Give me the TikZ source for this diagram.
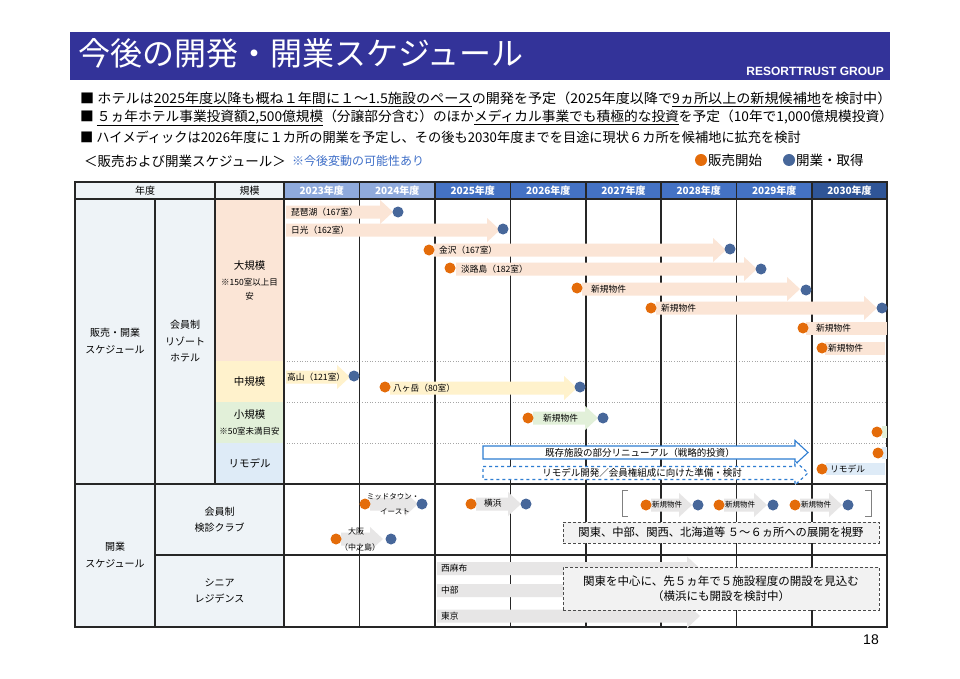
\documentclass[tikz,border=0pt]{standalone}
\usepackage{fontspec}
\usepackage{graphicx}
\setmainfont{Noto Sans CJK JP}
\newfontfamily\arial{Liberation Sans}
\definecolor{ttl}{HTML}{333399}
\definecolor{salm}{HTML}{FBE5D6}
\definecolor{cream}{HTML}{FFF2CC}
\definecolor{mint}{HTML}{E2F0D9}
\definecolor{sky}{HTML}{DEEBF7}
\definecolor{pale}{HTML}{EEF3F7}
\definecolor{hdA}{HTML}{8FAADC}
\definecolor{hdB}{HTML}{4472C4}
\definecolor{hdC}{HTML}{2F5597}
\definecolor{dotor}{HTML}{E46C0A}
\definecolor{dotbl}{HTML}{47679A}
\definecolor{rmd}{HTML}{2E7DD1}
\definecolor{ash}{HTML}{E7E6E6}
\definecolor{notec}{HTML}{3F6FC8}
% block arrow: start x, tip x, centre y, path options
\newcommand{\barh}{6.5}
\newcommand{\headh}{12}
\newcommand{\headl}{13}
\newcommand{\blk}[4]{\path[#4] (#1,#3-\barh)--(#2-\headl,#3-\barh)--(#2-\headl,#3-\headh)--(#2,#3)
  --(#2-\headl,#3+\headh)--(#2-\headl,#3+\barh)--(#1,#3+\barh)--cycle;}
\begin{document}
\begin{tikzpicture}[x=1pt,y=-1pt,
  sale/.style={circle,fill=dotor,inner sep=0pt,minimum size=11pt},
  open/.style={circle,fill=dotbl,inner sep=0pt,minimum size=11pt},
  lbl/.style={anchor=west,inner sep=0pt,font=\fontsize{8.7}{9}\selectfont},
  cell/.style={align=center,inner sep=0pt,font=\fontsize{10}{16.5}\selectfont},
  yr/.style={text=white,inner sep=0pt,font=\bfseries\fontsize{10}{10}\selectfont},
  grid/.style={line width=1.2pt,black!85},
  sep/.style={black!35,dotted,line width=0.6pt},
  note/.style={draw=black!70,densely dashed,fill=black!5,line width=0.8pt,inner sep=0pt},
  bul/.style={anchor=west,inner sep=0pt,font=\fontsize{13.5}{14}\selectfont}]
\path[fill=white] (0,0) rectangle (960,679);
% title
\fill[ttl] (70,32) rectangle (890,80);
\node[anchor=west,text=white,inner sep=0pt,font=\fontsize{32}{33}\selectfont] (ttl) at (78,53) {今後の開発・開業スケジュール};
\node[anchor=east,text=white,inner sep=0pt,font=\arial\bfseries\fontsize{12}{12}\selectfont] (grp) at (884,71) {RESORTTRUST GROUP};
% bullets
\node[bul] (b1) at (80,99) {\scalebox{1.044}[1]{■ ホテルは\underline{2025年度以降も概ね１年間に１～1.5施設のペース}の開発を予定（2025年度以降で\underline{9ヵ所以上の新規候補地}を検討中）}};
\node[bul] (b2) at (80,118) {\scalebox{1.016}[1]{■ \underline{５ヵ年ホテル事業投資額2,500億規模}（分譲部分含む）のほか\underline{メディカル事業でも積極的な投資}を予定（10年で1,000億規模投資）}};
\node[bul] (b3) at (80,137) {\scalebox{0.978}[1]{■ ハイメディックは2026年度に１カ所の開業を予定し、その後も2030年度までを目途に現状６カ所を候補地に拡充を検討}};
\node[anchor=west,inner sep=0pt,font=\fontsize{13.5}{14}\selectfont] (sub) at (84,161) {＜販売および開業スケジュール＞};
\node[anchor=west,inner sep=0pt,text=notec,font=\fontsize{12}{12}\selectfont,xshift=6pt] (rem) at (sub.east) {※今後変動の可能性あり};
\node[sale,minimum size=12pt] (lg1) at (701,160) {};
\node[anchor=west,inner sep=0pt,font=\fontsize{13.5}{14}\selectfont] (lt1) at (708,160) {販売開始};
\node[open,minimum size=12pt] (lg2) at (789,160) {};
\node[anchor=west,inner sep=0pt,font=\fontsize{13.5}{14}\selectfont] (lt2) at (796,160) {開業・取得};
% cells
\fill[pale] (75,182) rectangle (284,199);
\fill[pale] (75,199) rectangle (215,627);
\fill[pale] (215,484) rectangle (284,627);
\fill[salm] (215,199) rectangle (284,361);
\fill[cream] (215,361) rectangle (284,402);
\fill[mint] (215,402) rectangle (284,443);
\fill[sky] (215,443) rectangle (284,484);
\foreach \p/\q/\cl/\yy in {284/359.5/hdA/2023,359.5/435/hdA/2024,435/510.5/hdB/2025,510.5/586/hdB/2026,
  586/661/hdB/2027,661/736.5/hdB/2028,736.5/812/hdB/2029,812/887/hdC/2030}
  {\fill[\cl] (\p,182) rectangle (\q,199);
   \node[yr] (y\yy) at ({(\p+\q)/2},190.5) {\yy 年度};}
\foreach \y in {361,402,443} \draw[sep] (284,\y)--(887,\y);
% grid
\draw[grid] (75,182) rectangle (887,627);
\draw[grid] (75,199)--(887,199);
\draw[grid] (215,182)--(215,484);
\draw[grid] (155,199)--(155,627);
\foreach \x in {284,359.5,435,510.5,586,661,736.5,812} \draw[grid] (\x,182)--(\x,627);
\draw[grid,line width=2.2pt] (75,484)--(887,484);
\draw[grid] (155,555)--(887,555);
\node[cell] (hy) at (145,190.5) {年度};
\node[cell] (hs) at (249.5,190.5) {規模};
\node[cell] (c1) at (115,341) {販売・開業\\スケジュール};
\node[cell] (c2) at (185,341.5) {会員制\\リゾート\\ホテル};
\node[cell,font=\fontsize{10.5}{12}\selectfont] (lgA) at (249.5,266) {大規模};
\node[cell,font=\fontsize{8.5}{14}\selectfont] (lgB) at (249.5,289) {※150室以上目\\安};
\node[cell,font=\fontsize{10.5}{12}\selectfont] (md) at (249.5,381.5) {中規模};
\node[cell,font=\fontsize{10.5}{12}\selectfont] (smA) at (249.5,414.5) {小規模};
\node[cell,font=\fontsize{8.5}{10}\selectfont] (smB) at (249.5,431) {※50室未満目安};
\node[cell,font=\fontsize{10.5}{12}\selectfont] (rm) at (249.5,463) {リモデル};
\node[cell] (c3) at (115,555) {開業\\スケジュール};
\node[cell] (c4) at (219.5,519.5) {会員制\\検診クラブ};
\node[cell] (c5) at (219.5,591) {シニア\\レジデンス};
% large
\blk{286}{393}{212}{fill=salm}
\node[lbl] (t1) at (291,212) {琵琶湖（167室）};
\node[open] (o1) at (398,212) {};
\blk{286}{500}{230}{fill=salm}
\node[lbl] (t2) at (291,230) {日光（162室）};
\node[open] (o2) at (503,229) {};
\blk{434}{726}{250}{fill=salm}
\node[sale] (s3) at (429,250) {};
\node[lbl] (t3) at (439,250) {金沢（167室）};
\node[open] (o3) at (730,249) {};
\blk{456}{757}{269}{fill=salm}
\node[sale] (s4) at (450,268) {};
\node[lbl] (t4) at (461,269) {淡路島（182室）};
\node[open] (o4) at (761,269) {};
\blk{582}{800}{289}{fill=salm}
\node[sale] (s5) at (577,288) {};
\node[lbl] (t5) at (591,289) {新規物件};
\node[open] (o5) at (806,290) {};
\blk{656}{877}{308}{fill=salm}
\node[sale] (s6) at (651,308) {};
\node[lbl] (t6) at (661,308) {新規物件};
\node[open] (o6) at (882,308) {};
\fill[salm] (806,321.5) rectangle (887,334.5);
\node[sale] (s7) at (803,328) {};
\node[lbl] (t7) at (816,328) {新規物件};
\fill[salm] (825,341.5) rectangle (885,354.5);
\node[sale] (s8) at (822,348) {};
\node[lbl] (t8) at (828,348) {新規物件};
% middle
\blk{286}{350}{377}{fill=cream}
\node[lbl] (t9) at (287,377) {高山（121室）};
\node[open] (o9) at (354,376) {};
\blk{390}{577}{388}{fill=cream}
\node[sale] (s10) at (385,387) {};
\node[lbl] (t10) at (393,388) {八ヶ岳（80室）};
\node[open] (o10) at (580,387) {};
% small
\blk{533}{598}{418}{fill=mint}
\node[sale] (s11) at (528,418) {};
\node[lbl] (t11) at (543,418) {新規物件};
\node[open] (o11) at (603,418) {};
\fill[mint] (882,426) rectangle (887,438);
\node[sale] (s12) at (877,432) {};
% remodel
\blk{483}{808}{452.5}{draw=rmd,fill=white,line width=1.1pt}
\node[inner sep=0pt,font=\fontsize{9.5}{10}\selectfont] (r1) at (640,452.5) {既存施設の部分リニューアル（戦略的投資）};
\blk{483}{808}{473}{draw=rmd,fill=white,line width=1.1pt,dashed}
\node[inner sep=0pt,font=\fontsize{9.5}{10}\selectfont] (r2) at (642,473) {リモデル開発／会員権組成に向けた準備・検討};
\fill[sky] (882,447) rectangle (887,459);
\node[sale] (s13) at (878,453) {};
\fill[sky] (826,463) rectangle (885,475);
\node[sale] (s14) at (822,469) {};
\node[lbl] (t14) at (830,469) {リモデル};
% clinic
\blk{370}{418}{504}{fill=ash}
\node[sale] (s15) at (365,504) {};
\node[inner sep=0pt,font=\fontsize{7.5}{8}\selectfont] (t15) at (393,497) {ミッドタウン・};
\node[inner sep=0pt,font=\fontsize{7.5}{8}\selectfont] (t15b) at (395,512) {イースト};
\node[open] (o15) at (422,504) {};
\blk{341}{383}{539}{fill=ash}
\node[sale] (s16) at (336,539) {};
\node[inner sep=0pt,font=\fontsize{8}{8}\selectfont] (t16) at (356,531) {大阪};
\node[inner sep=0pt,font=\fontsize{8}{8}\selectfont] (t16b) at (360,547) {（中之島）};
\node[open] (o16) at (391,539) {};
\blk{476}{521}{504}{fill=ash}
\node[sale] (s17) at (471,504) {};
\node[lbl] (t17) at (484,503) {横浜};
\node[open] (o17) at (526,504) {};
\foreach \p/\q in {646/698,719/773,795/848}
  {\blk{\p+5}{\q-6}{505}{fill=ash}
   \node[sale] (k\p) at (\p,505) {};
   \node[lbl,font=\fontsize{7.5}{8}\selectfont] (kt\p) at (\p+6,505) {新規物件};
   \node[open] (ko\p) at (\q,505) {};}
\draw[black!50,line width=1pt] (628,490)--(622,490)--(622,516)--(628,516);
\draw[black!50,line width=1pt] (865,490)--(871,490)--(871,516)--(865,516);
\node[note,minimum width=316pt,minimum height=21pt,font=\fontsize{11.3}{12}\selectfont] (bx1) at (721,532.5) {関東、中部、関西、北海道等 ５～６ヵ所への展開を視野};
% senior
\foreach \yy/\nm/\k in {568.5/西麻布/1,590.5/中部/2,616/東京/3}
  {\blk{437}{700}{\yy}{fill=ash}
   \node[lbl] (sr\k) at (441,\yy) {\nm};}
\node[note,minimum width=316pt,minimum height=43pt,align=center,font=\fontsize{11.5}{15}\selectfont] (bx2) at (721,588.5) {関東を中心に、先５ヵ年で５施設程度の開設を見込む\\（横浜にも開設を検討中）};
\node[inner sep=0pt,font=\arial\fontsize{14}{15}\selectfont] (pg) at (871,640) {18};
\end{tikzpicture}
\end{document}
